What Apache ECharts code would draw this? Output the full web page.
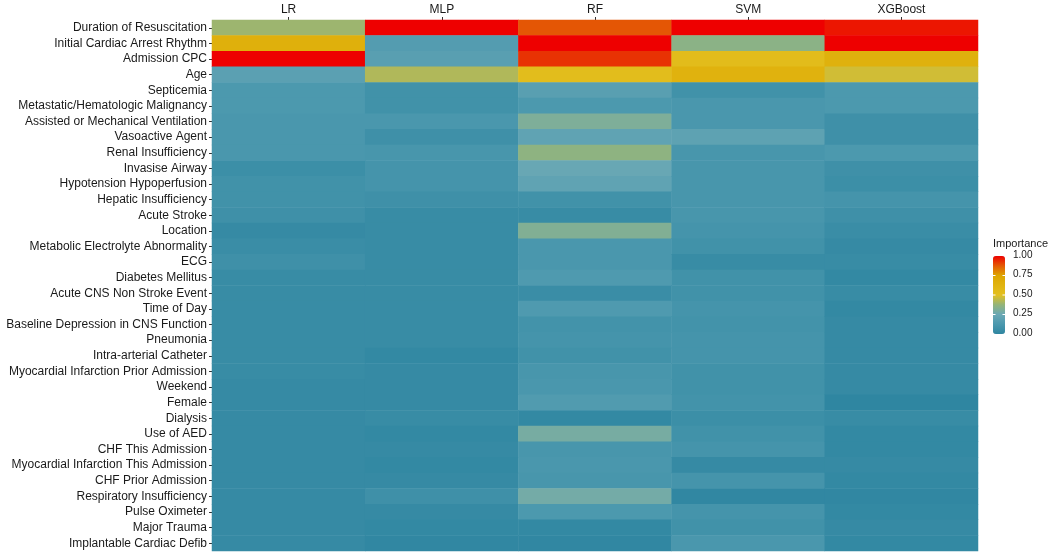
<!DOCTYPE html>
<html>
<head>
<meta charset="utf-8">
<script src="https://cdn.jsdelivr.net/npm/echarts@6/dist/echarts.min.js"></script>
<style>html,body{margin:0;padding:0;background:#fff}#c{width:1050px;height:557px}</style>
</head>
<body>
<div id="c"></div>
<script>
const models = ['LR', 'MLP', 'RF', 'SVM', 'XGBoost'];
const features = [
  'Duration of Resuscitation', 'Initial Cardiac Arrest Rhythm', 'Admission CPC', 'Age',
  'Septicemia', 'Metastatic/Hematologic Malignancy', 'Assisted or Mechanical Ventilation',
  'Vasoactive Agent', 'Renal Insufficiency', 'Invasise Airway', 'Hypotension Hypoperfusion',
  'Hepatic Insufficiency', 'Acute Stroke', 'Location', 'Metabolic Electrolyte Abnormality',
  'ECG', 'Diabetes Mellitus', 'Acute CNS Non Stroke Event', 'Time of Day',
  'Baseline Depression in CNS Function', 'Pneumonia', 'Intra-arterial Catheter',
  'Myocardial Infarction Prior Admission', 'Weekend', 'Female', 'Dialysis', 'Use of AED',
  'CHF This Admission', 'Myocardial Infarction This Admission', 'CHF Prior Admission',
  'Respiratory Insufficiency', 'Pulse Oximeter', 'Major Trauma', 'Implantable Cardiac Defib'
];
const lrValues = [0.39, 0.66, 1.00, 0.19, 0.13, 0.13, 0.12, 0.12, 0.12, 0.06, 0.08, 0.08, 0.07,
  0.03, 0.05, 0.07, 0.04, 0.04, 0.04, 0.04, 0.04, 0.04, 0.04, 0.03, 0.03, 0.03, 0.03, 0.03,
  0.03, 0.03, 0.03, 0.03, 0.03, 0.03];
const mlpValues = [1.00, 0.16, 0.18, 0.42, 0.08, 0.08, 0.12, 0.07, 0.11, 0.10, 0.10, 0.07, 0.04,
  0.04, 0.04, 0.04, 0.04, 0.04, 0.04, 0.04, 0.04, 0.02, 0.03, 0.03, 0.03, 0.04, 0.02, 0.03,
  0.02, 0.03, 0.07, 0.03, 0.02, 0.01];
const rfValues = [0.88, 1.00, 0.93, 0.53, 0.18, 0.13, 0.31, 0.21, 0.36, 0.24, 0.21, 0.08, 0.04,
  0.32, 0.12, 0.12, 0.14, 0.05, 0.14, 0.09, 0.10, 0.08, 0.11, 0.12, 0.15, 0.02, 0.29, 0.11,
  0.12, 0.11, 0.28, 0.13, 0.02, 0.01];
const svmValues = [1.00, 0.35, 0.54, 0.64, 0.08, 0.12, 0.12, 0.20, 0.11, 0.11, 0.11, 0.11, 0.11,
  0.10, 0.08, 0.04, 0.08, 0.08, 0.10, 0.09, 0.10, 0.10, 0.08, 0.08, 0.09, 0.06, 0.08, 0.10,
  0.03, 0.10, 0.01, 0.10, 0.08, 0.12];
const xgbValues = [0.97, 1.00, 0.65, 0.47, 0.13, 0.13, 0.07, 0.07, 0.13, 0.07, 0.06, 0.10, 0.07,
  0.05, 0.03, 0.04, 0.02, 0.04, 0.02, 0.03, 0.03, 0.03, 0.03, 0.03, 0.00, 0.04, 0.02, 0.02,
  0.03, 0.02, 0.01, 0.02, 0.03, 0.02];
const legendTicks = ['0.00', '0.25', '0.50', '0.75', '1.00'];

const cols = [lrValues, mlpValues, rfValues, svmValues, xgbValues];
const data = [];
cols.forEach((arr, xi) => arr.forEach((v, yi) => data.push([xi, yi, v])));

const chart = echarts.init(document.getElementById('c'));
const barTop = 256, barH = 78, barLeft = 993, barW = 12;
const graphics = [];
legendTicks.forEach((t, i) => {
  const y = barTop + barH - (barH * i / 4);
  graphics.push({ type: 'text', left: barLeft + barW + 8, top: y - 6,
    style: { text: t, fontSize: 10, fill: '#1a1a1a', fontFamily: 'Liberation Sans, Arial' } });
  if (i > 0 && i < 4) {
    graphics.push({ type: 'line', shape: { x1: barLeft, y1: y, x2: barLeft + 2.5, y2: y }, style: { stroke: '#fff', lineWidth: 1 }, z: 100 });
    graphics.push({ type: 'line', shape: { x1: barLeft + barW - 2.5, y1: y, x2: barLeft + barW, y2: y }, style: { stroke: '#fff', lineWidth: 1 }, z: 100 });
  }
});
graphics.push({ type: 'text', left: 993, top: 238,
  style: { text: 'Importance', fontSize: 11, fill: '#1a1a1a', fontFamily: 'Liberation Sans, Arial' } });

chart.setOption({
  animation: false,
  backgroundColor: '#fff',
  grid: { left: 212, right: 72, top: 20, bottom: 6 },
  xAxis: {
    type: 'category', data: models, position: 'top',
    axisLine: { show: false },
    axisTick: { show: true, alignWithLabel: true, length: 3, lineStyle: { color: '#333' } },
    axisLabel: { fontSize: 12, color: '#1a1a1a', margin: 4, fontFamily: 'Liberation Sans, Arial' },
    splitLine: { show: false }
  },
  yAxis: {
    type: 'category', data: features, inverse: true,
    axisLine: { show: false },
    axisTick: { show: true, alignWithLabel: true, length: 3, lineStyle: { color: '#333' } },
    axisLabel: { fontSize: 12, color: '#1a1a1a', margin: 5, fontFamily: 'Liberation Sans, Arial', interval: 0 },
    splitLine: { show: false }
  },
  visualMap: {
    type: 'continuous', min: 0, max: 1, calculable: false, show: true,
    orient: 'vertical', left: barLeft, top: barTop, itemWidth: barW, itemHeight: barH,
    padding: 0, text: null, showLabel: false,
    inRange: { color: ['#2F86A1', '#4B98AE', '#6AA8B5', '#93B47A', '#E3C020', '#E0B410', '#DDA500', '#E45A05', '#EE0000'] }
  },
  graphic: graphics,
  series: [{
    type: 'heatmap', data: data,
    itemStyle: { borderWidth: 0 },
    emphasis: { disabled: true },
    progressive: 0
  }]
});
</script>
</body>
</html>
